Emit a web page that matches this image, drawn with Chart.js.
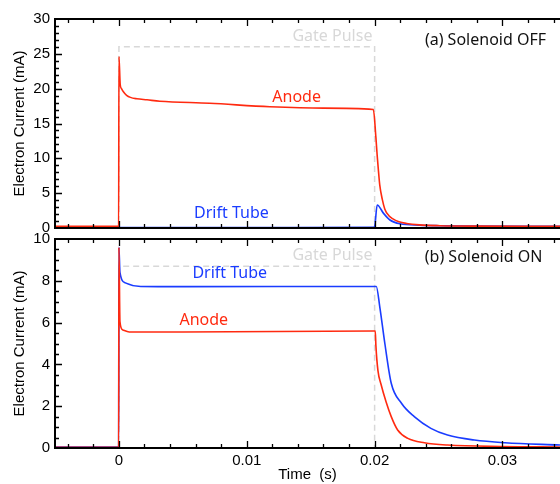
<!DOCTYPE html>
<html>
<head>
<meta charset="utf-8">
<script src="https://cdn.jsdelivr.net/npm/chart.js@4.4.1/dist/chart.umd.min.js"></script>
<style>
  body { margin: 0; background: #fff; }
  #wrap { position: relative; width: 560px; height: 484px; }
  canvas { position: absolute; left: 0; top: 0; }
</style>
</head>
<body>
<div id="wrap">
  <canvas id="offChart" width="560" height="484"></canvas>
  <canvas id="onChart" width="560" height="484"></canvas>
</div>
<script>
const RED = "#ff2a10";
const BLUE = "#1a3cff";
const GATE = "#d8d8d8";

// (a) Solenoid OFF
const tAnodeOff = [-0.005, -0.00002, 0, 0.0001, 0.0002, 0.00035, 0.0006, 0.0009, 0.0014, 0.0022, 0.0032, 0.0071, 0.0118, 0.016, 0.0199,
  0.0201, 0.0202, 0.0203, 0.0204, 0.0206, 0.0208, 0.0211, 0.0214, 0.0219, 0.0225, 0.0235, 0.0251, 0.028, 0.0345];
const anodeOff = [0.25, 0.25, 24.6, 20.6, 20.0, 19.55, 19.05, 18.75, 18.55, 18.4, 18.2, 17.9, 17.4, 17.2, 17.0,
  13.0, 10.4, 8.2, 6.2, 4.1, 2.7, 1.8, 1.35, 0.9, 0.65, 0.45, 0.33, 0.27, 0.25];
const tDriftOff = [-0.005, -0.00002, 0.0001, 0.0199, 0.02, 0.0202, 0.0207, 0.0212, 0.022, 0.0235, 0.025, 0.028, 0.0345];
const driftOff = [0.15, 0.15, 0.05, 0.1, 0.2, 3.3, 2.1, 1.15, 0.6, 0.4, 0.33, 0.28, 0.25];

// (b) Solenoid ON
const tAnodeOn = [-0.005, -0.00002, 0, 0.00008, 0.0003, 0.0008, 0.005, 0.0199, 0.02005, 0.0201, 0.02026, 0.0205,
  0.0209, 0.0213, 0.0218, 0.0226, 0.0239, 0.0257, 0.03, 0.0345];
const anodeOn = [0.03, 0.03, 9.6, 6.05, 5.65, 5.55, 5.55, 5.6, 5.6, 4.9, 3.7, 3.05,
  2.2, 1.5, 0.86, 0.46, 0.25, 0.14, 0.07, 0.05];
const tDriftOn = [-0.005, -0.00002, 0, 0.00008, 0.0005, 0.0017, 0.005, 0.0199, 0.02013, 0.0204, 0.0208, 0.0213,
  0.0221, 0.0231, 0.0244, 0.0257, 0.0278, 0.0302, 0.0345];
const driftOn = [0.05, 0.05, 9.6, 8.4, 7.9, 7.73, 7.72, 7.73, 7.73, 6.77, 5.0, 3.1,
  2.14, 1.5, 0.94, 0.62, 0.38, 0.25, 0.14];

// gate pulse
const tGate = [-0.005, 0, 0, 0.02, 0.02, 0.0345];
const gateOff = [0, 0, 26, 26, 0, 0];
const gateOn = [0, 0, 8.7, 8.7, 0, 0];

const xTickLabels = [0, 0.01, 0.02, 0.03];

const tickFont = { family: "Liberation Sans", size: 15 };
const noteFont = "16px 'Noto Sans'";

function pts(t, v) {
  return t.map((x, i) => ({ x: x, y: v[i] }));
}

function curve(label, t, v, color, order) {
  return {
    label: label, data: pts(t, v), borderColor: color, borderWidth: 1.6,
    pointRadius: 0, fill: false, cubicInterpolationMode: "monotone", order: order
  };
}

function gate(v) {
  return {
    label: "Gate Pulse", data: pts(tGate, v), borderColor: GATE, borderWidth: 1.5,
    borderDash: [6, 4], pointRadius: 0, fill: false, tension: 0, order: 5
  };
}

// frame, inward ticks and text notes
const frame = {
  id: "frame",
  afterDraw(chart, args, o) {
    const { ctx, chartArea: a, scales: { x, y } } = chart;
    ctx.save();
    ctx.strokeStyle = "#000";
    ctx.lineWidth = 1.3;
    ctx.beginPath();
    for (let k = -2; k <= 17; k++) {
      const px = Math.round(x.getPixelForValue(k * 0.002)) + 0.5;
      const len = k % 5 === 0 ? 7 : 4;
      ctx.moveTo(px, a.bottom); ctx.lineTo(px, a.bottom - len);
      ctx.moveTo(px, a.top); ctx.lineTo(px, a.top + len);
    }
    const n = Math.round(y.max / o.yMinor);
    for (let k = 1; k < n; k++) {
      const py = Math.round(y.getPixelForValue(k * o.yMinor)) + 0.5;
      const len = k % o.yMajorEvery === 0 ? 7 : 4;
      ctx.moveTo(a.left, py); ctx.lineTo(a.left + len, py);
    }
    ctx.stroke();

    ctx.lineWidth = 2;
    ctx.beginPath();
    ctx.moveTo(a.right, a.top); ctx.lineTo(a.left, a.top);
    ctx.lineTo(a.left, a.bottom); ctx.lineTo(a.right, a.bottom);
    ctx.stroke();

    ctx.font = noteFont;
    ctx.textAlign = "center";
    ctx.textBaseline = "middle";
    o.notes.forEach(n => {
      ctx.fillStyle = n.color;
      ctx.fillText(n.text, x.getPixelForValue(n.t), y.getPixelForValue(n.v));
    });
    ctx.restore();
  }
};

function yAxis(max, step) {
  return {
    min: 0, max: max,
    afterFit(s) { s.width = 55; },
    grid: { display: false, drawTicks: false },
    border: { display: false },
    ticks: { stepSize: step, padding: 5, color: "#000", font: tickFont },
    title: { display: true, text: "Electron Current (mA)", color: "#000", font: tickFont, padding: { top: 11, bottom: 0 } }
  };
}

new Chart(document.getElementById("offChart"), {
  type: "line",
  data: {
    datasets: [
      curve("Anode", tAnodeOff, anodeOff, RED, 0),
      curve("Drift Tube", tDriftOff, driftOff, BLUE, 1),
      gate(gateOff)
    ]
  },
  options: {
    responsive: false,
    animation: false,
    layout: { padding: { top: 19, bottom: 256, left: 0, right: 0 } },
    plugins: {
      legend: { display: false },
      tooltip: { enabled: false },
      frame: {
        yMinor: 1, yMajorEvery: 5,
        notes: [
          { text: "Gate Pulse", t: 0.0167, v: 27.45, color: GATE },
          { text: "(a) Solenoid OFF", t: 0.02867, v: 26.9, color: "#111" },
          { text: "Anode", t: 0.0139, v: 18.8, color: RED },
          { text: "Drift Tube", t: 0.0088, v: 2.12, color: BLUE }
        ]
      }
    },
    scales: {
      x: { type: "linear", min: -0.005, max: 0.0345, display: false },
      y: yAxis(30, 5)
    }
  },
  plugins: [frame]
});

new Chart(document.getElementById("onChart"), {
  type: "line",
  data: {
    datasets: [
      curve("Drift Tube", tDriftOn, driftOn, BLUE, 1),
      curve("Anode", tAnodeOn, anodeOn, RED, 0),
      gate(gateOn)
    ]
  },
  options: {
    responsive: false,
    animation: false,
    layout: { padding: { top: 239, bottom: 0, left: 0, right: 0 } },
    plugins: {
      legend: { display: false },
      tooltip: { enabled: false },
      frame: {
        yMinor: 0.5, yMajorEvery: 4,
        notes: [
          { text: "Gate Pulse", t: 0.0167, v: 9.23, color: GATE },
          { text: "(b) Solenoid ON", t: 0.02852, v: 9.12, color: "#111" },
          { text: "Drift Tube", t: 0.00867, v: 8.33, color: BLUE },
          { text: "Anode", t: 0.00664, v: 6.08, color: RED }
        ]
      }
    },
    scales: {
      x: {
        type: "linear", min: -0.005, max: 0.0345,
        afterFit(s) { s.height = 36; },
        afterBuildTicks(s) { s.ticks = xTickLabels.map(v => ({ value: v })); },
        grid: { display: false, drawTicks: false },
        border: { display: false },
        ticks: {
          padding: 4, maxRotation: 0, autoSkip: false, color: "#000", font: tickFont,
          callback: v => String(v)
        },
        title: { display: true, text: "Time  (s)", color: "#000", font: tickFont, padding: { top: 0, bottom: 0 } }
      },
      y: yAxis(10, 2)
    }
  },
  plugins: [frame]
});
</script>
</body>
</html>
